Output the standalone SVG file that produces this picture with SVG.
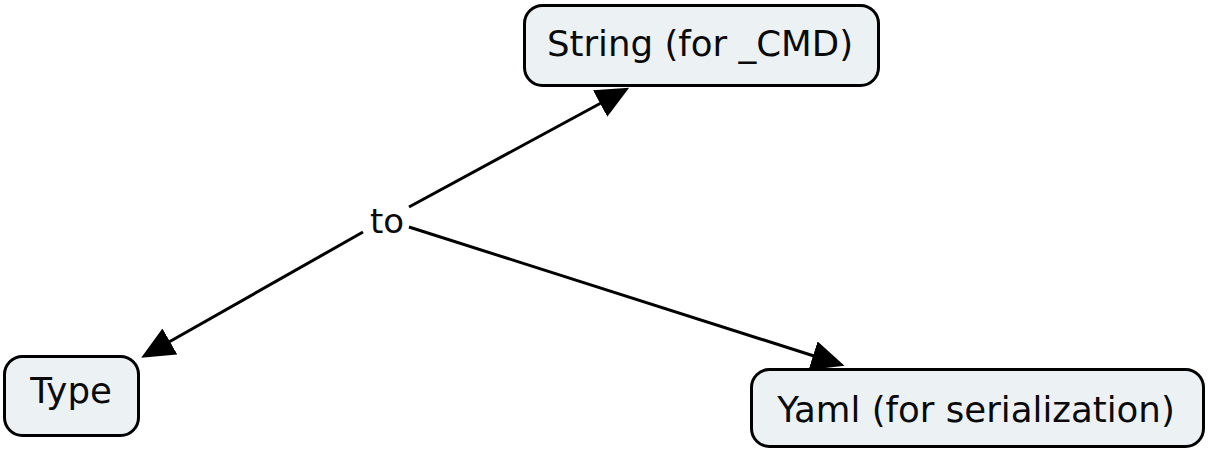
<svg xmlns="http://www.w3.org/2000/svg" width="1211" height="454" viewBox="0 0 1211 454">
<style>
.node rect{fill:#ecf2f4;stroke:#000;stroke-width:3}
text{font-family:"DejaVu Sans",sans-serif;font-size:35.6px;fill:#0a0a0a;text-anchor:middle}
.lbl{font-size:34px}
.edge{stroke:#000;stroke-width:3;fill:none}
</style>
<defs>
<marker id="arr" markerUnits="userSpaceOnUse" markerWidth="40" markerHeight="40" refX="1" refY="15" orient="auto" viewBox="0 0 40 40">
<path d="M0,0 L33,15 L0,30 z" fill="#000"/>
</marker>
</defs>
<rect width="1211" height="454" fill="#fff"/>
<g id="connectors">
<line class="edge" x1="409" y1="207" x2="601" y2="103" marker-end="url(#arr)"/>
<line class="edge" x1="363" y1="232" x2="169" y2="342" marker-end="url(#arr)"/>
<line class="edge" x1="409" y1="227" x2="814" y2="356" marker-end="url(#arr)"/>
<text class="lbl" x="387" y="233">to</text>
</g>
<g id="node-string" class="node">
<rect x="524.5" y="5.5" width="354" height="80" rx="18"/>
<text x="700" y="56">String (for _CMD)</text>
</g>
<g id="node-type" class="node">
<rect x="4.5" y="356.5" width="134" height="79" rx="18"/>
<text x="71" y="403">Type</text>
</g>
<g id="node-yaml" class="node">
<rect x="751.5" y="369.5" width="452" height="77" rx="18"/>
<text x="976" y="422">Yaml (for serialization)</text>
</g>
</svg>
